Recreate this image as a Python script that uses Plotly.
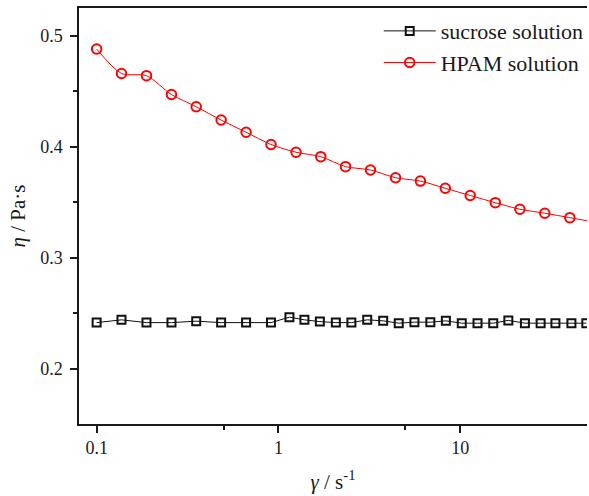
import plotly.graph_objects as go

# shear rate (1/s) and viscosity (Pa·s)
hpam_rate = [0.100, 0.137, 0.188, 0.258, 0.353, 0.484, 0.664, 0.910, 1.25, 1.71,
             2.34, 3.21, 4.41, 6.04, 8.28, 11.35, 15.6, 21.3, 29.2, 40.1, 54.9]
hpam_visc = [0.488, 0.466, 0.464, 0.447, 0.436, 0.424, 0.413, 0.402, 0.395, 0.391,
             0.382, 0.379, 0.372, 0.369, 0.3625, 0.356, 0.3495, 0.3436, 0.340, 0.336, 0.332]

suc_rate = [0.100, 0.137, 0.188, 0.258, 0.353, 0.484, 0.664, 0.910,
            1.15, 1.39, 1.69, 2.07, 2.52, 3.08, 3.77, 4.59, 5.60, 6.85, 8.34,
            10.2, 12.45, 15.2, 18.4, 22.7, 27.7, 33.4, 40.9, 49.4]
suc_visc = [0.2414, 0.2439, 0.2414, 0.2414, 0.2427, 0.2414, 0.2414, 0.2414,
            0.2463, 0.2439, 0.2423, 0.2414, 0.2414, 0.2439, 0.2430, 0.2409, 0.2418, 0.2418, 0.2430,
            0.2409, 0.2409, 0.2409, 0.2434, 0.2409, 0.2409, 0.2409, 0.2409, 0.2409]

x_tickvals = [0.1, 1, 10]
x_ticktext = ["0.1", "1", "10"]
x_minor = [0.5, 5, 50]
y_tickvals = [0.2, 0.3, 0.4, 0.5]
y_ticktext = ["0.2", "0.3", "0.4", "0.5"]

FONT = "Liberation Serif"
INK = "#1a1a1a"

fig = go.Figure()
fig.add_trace(go.Scatter(
    x=suc_rate, y=suc_visc, name="sucrose solution", mode="lines+markers",
    line=dict(color="#111111", width=1),
    marker=dict(symbol="square-open", size=8, color="#111111", line=dict(width=2)),
))
fig.add_trace(go.Scatter(
    x=hpam_rate, y=hpam_visc, name="HPAM solution", mode="lines+markers",
    line=dict(color="#ff0000", width=1, shape="spline", smoothing=0.8),
    marker=dict(symbol="circle-open", size=9.5, color="#ff0000", line=dict(width=2)),
))

fig.update_layout(
    width=589, height=496,
    margin=dict(l=79, r=0, t=8, b=72),
    paper_bgcolor="white", plot_bgcolor="white",
    font=dict(family=FONT, color=INK, size=18),
    showlegend=True,
    legend=dict(x=0.59, y=0.995, xanchor="left", yanchor="top",
                bgcolor="rgba(0,0,0,0)", font=dict(size=22, family=FONT, color=INK),
                itemwidth=52, tracegroupgap=0),
    xaxis=dict(
        type="log", range=[-1.097, 1.6975],
        tickmode="array", tickvals=x_tickvals, ticktext=x_ticktext,
        ticks="outside", ticklen=7, tickwidth=1.5, tickcolor=INK,
        minor=dict(tickmode="array", tickvals=x_minor, ticks="outside", ticklen=4,
                   tickwidth=1.5, tickcolor=INK, showgrid=False),
        showline=True, linecolor=INK, linewidth=1.5, mirror=True,
        showgrid=False, zeroline=False,
        tickfont=dict(size=18, family=FONT, color=INK),
        title=dict(text="<i>γ</i> / s<sup>-1</sup>", font=dict(size=21, family=FONT, color=INK), standoff=17),
    ),
    yaxis=dict(
        range=[0.15, 0.525],
        tickmode="array", tickvals=y_tickvals, ticktext=y_ticktext,
        ticks="outside", ticklen=7, tickwidth=1.5, tickcolor=INK,
        minor=dict(tickmode="array", tickvals=[0.25, 0.35, 0.45], ticks="outside", ticklen=4,
                   tickwidth=1.5, tickcolor=INK, showgrid=False),
        showline=True, linecolor=INK, linewidth=1.5, mirror=False,
        showgrid=False, zeroline=False, ticklabelstandoff=4,
        tickfont=dict(size=18, family=FONT, color=INK),
        title=dict(text="<i>η</i> / Pa·s", font=dict(size=21, family=FONT, color=INK), standoff=9),
    ),
)

fig.write_html("out.html")
